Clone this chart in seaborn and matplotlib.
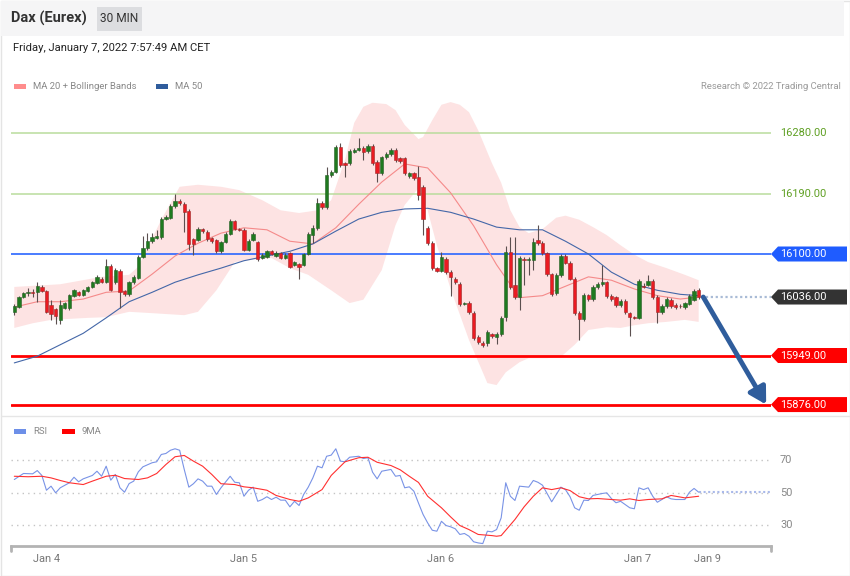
import matplotlib
matplotlib.use("Agg")
import matplotlib.pyplot as plt
import matplotlib.patches as mpatches
import matplotlib.transforms as mtransforms
from matplotlib.lines import Line2D
import numpy as np
import pandas as pd
import seaborn as sns

# ---------------- data ----------------
opens = [16014, 16021, 16036, 16042, 16043, 16043, 16051, 16045, 16024, 16018,
         16002, 16020, 16020, 16038, 16043, 16039, 16045, 16051, 16057, 16063,
         16058, 16082, 16058, 16075, 16045, 16040, 16058, 16064, 16096, 16109,
         16119, 16124, 16125, 16152, 16154, 16171, 16179, 16174, 16164, 16122,
         16121, 16137, 16133, 16124, 16121, 16104, 16118, 16130, 16149, 16137,
         16136, 16106, 16121, 16118, 16094, 16096, 16104, 16097, 16101, 16094,
         16101, 16084, 16085, 16084, 16100, 16128, 16139, 16176, 16170, 16218,
         16222, 16259, 16235, 16235, 16252, 16255, 16258, 16253, 16261, 16237,
         16220, 16244, 16249, 16255, 16243, 16243, 16216, 16220, 16215, 16200,
         16139, 16116, 16079, 16075, 16093, 16073, 16063, 16055, 16026, 16027,
         16012, 15977, 15968, 15968, 15981, 15977, 15981, 16006, 16103, 16054,
         16036, 16093, 16091, 16091, 16121, 16116, 16101, 16070, 16042, 16069,
         16097, 16087, 16063, 16012, 16003, 16039, 16033, 16051, 16055, 16058,
         16038, 16036, 16024, 16030, 16012, 16006, 16005, 16052, 16054, 16060,
         16036, 16014, 16023, 16032, 16024, 16023, 16021, 16026, 16032, 16046]
highs = [16026, 16038, 16044, 16049, 16048, 16058, 16054, 16047, 16032, 16020,
         16032, 16029, 16041, 16048, 16045, 16048, 16053, 16060, 16069, 16066,
         16093, 16085, 16079, 16078, 16047, 16060, 16069, 16099, 16127, 16131,
         16131, 16135, 16155, 16158, 16174, 16189, 16182, 16177, 16167, 16124,
         16140, 16139, 16135, 16126, 16123, 16120, 16132, 16152, 16151, 16139,
         16138, 16122, 16133, 16120, 16101, 16106, 16106, 16104, 16103, 16101,
         16103, 16090, 16087, 16102, 16133, 16143, 16183, 16179, 16229, 16225,
         16262, 16265, 16237, 16256, 16258, 16273, 16261, 16264, 16264, 16240,
         16246, 16251, 16258, 16258, 16245, 16245, 16222, 16222, 16231, 16203,
         16142, 16119, 16081, 16103, 16095, 16076, 16066, 16058, 16029, 16030,
         16015, 15980, 15970, 15987, 15983, 15984, 16008, 16112, 16125, 16125,
         16097, 16096, 16096, 16124, 16143, 16119, 16103, 16072, 16072, 16100,
         16100, 16090, 16066, 16015, 16042, 16041, 16054, 16058, 16084, 16060,
         16040, 16038, 16033, 16033, 16014, 16008, 16063, 16057, 16069, 16063,
         16039, 16026, 16036, 16035, 16027, 16026, 16029, 16041, 16048, 16049]
lows = [16009, 16020, 16035, 16038, 16036, 16029, 16043, 16012, 16002, 15996,
        15996, 16018, 16017, 16036, 16037, 16037, 16043, 16049, 16055, 16057,
        16057, 16045, 16055, 16020, 16038, 16038, 16055, 16063, 16094, 16106,
        16116, 16122, 16122, 16150, 16152, 16169, 16173, 16133, 16106, 16098,
        16119, 16131, 16120, 16117, 16102, 16102, 16116, 16128, 16135, 16134,
        16104, 16104, 16119, 16090, 16092, 16094, 16098, 16096, 16093, 16092,
        16079, 16082, 16063, 16082, 16098, 16116, 16136, 16167, 16167, 16215,
        16220, 16229, 16215, 16232, 16250, 16253, 16240, 16250, 16232, 16207,
        16218, 16241, 16246, 16237, 16236, 16218, 16213, 16210, 16180, 16128,
        16113, 16076, 16073, 16073, 16070, 16038, 16055, 16023, 16024, 16011,
        15972, 15966, 15962, 15963, 15975, 15966, 15978, 16000, 16048, 16033,
        16017, 16054, 16069, 16076, 16113, 16099, 16067, 16038, 16039, 16066,
        16085, 16061, 16009, 15972, 16000, 16030, 16030, 16048, 16052, 16035,
        16030, 16021, 16021, 16011, 15978, 16003, 16003, 16049, 16052, 16033,
        15997, 16011, 16020, 16020, 16018, 16020, 16018, 16024, 16030, 16033]
closes = [16023, 16036, 16042, 16043, 16042, 16052, 16045, 16014, 16011, 16008,
          16024, 16027, 16039, 16046, 16039, 16046, 16051, 16058, 16066, 16058,
          16082, 16046, 16076, 16043, 16040, 16058, 16066, 16096, 16109, 16119,
          16125, 16127, 16152, 16155, 16171, 16179, 16176, 16162, 16115, 16115,
          16137, 16134, 16122, 16119, 16104, 16118, 16130, 16149, 16137, 16136,
          16106, 16119, 16130, 16093, 16099, 16104, 16100, 16101, 16094, 16099,
          16081, 16088, 16081, 16100, 16130, 16139, 16176, 16170, 16218, 16222,
          16259, 16232, 16232, 16253, 16255, 16258, 16252, 16261, 16235, 16220,
          16244, 16249, 16255, 16240, 16238, 16220, 16220, 16213, 16188, 16152,
          16116, 16079, 16075, 16096, 16073, 16066, 16058, 16026, 16027, 16014,
          15975, 15969, 15965, 15984, 15978, 15981, 16005, 16103, 16051, 16036,
          16094, 16091, 16092, 16118, 16116, 16101, 16070, 16040, 16069, 16097,
          16087, 16063, 16012, 16003, 16039, 16033, 16051, 16055, 16058, 16038,
          16033, 16024, 16030, 16014, 16006, 16005, 16060, 16051, 16060, 16036,
          16014, 16023, 16033, 16023, 16021, 16022, 16027, 16038, 16045, 16036]

# MA 50 (read at candle positions)
ma50_idx = [0, 5, 10, 15, 20, 25, 30, 35, 40, 45, 50, 55, 60, 65, 70, 75, 80, 85,
            90, 95, 100, 105, 110, 115, 120, 125, 130, 135, 140, 145, 149]
ma50_val = [15938, 15948, 15965, 15982, 16005, 16029, 16043, 16058, 16069, 16079,
            16090, 16097, 16104, 16115, 16134, 16152, 16162, 16167, 16168, 16162,
            16152, 16140, 16136, 16136, 16119, 16100, 16073, 16055, 16046, 16040,
            16038]
# MA 20
ma20_idx = ma50_idx
ma20_val = [16021, 16029, 16029, 16033, 16043, 16045, 16070, 16097, 16116, 16131,
            16139, 16136, 16119, 16115, 16139, 16174, 16207, 16234, 16228, 16191,
            16142, 16084, 16035, 16038, 16052, 16066, 16061, 16048, 16038, 16033,
            16036]
# Bollinger upper band
bb_up_idx = [0, 10, 19, 25, 27, 32, 36, 40, 45, 49, 54, 58, 62, 66, 69, 72, 74,
             76, 78, 81, 83, 85, 88, 89, 91, 93, 95, 97, 99, 101, 104, 106, 108,
             110, 112, 115, 118, 120, 123, 126, 129, 132, 135, 138, 142, 146, 149]
bb_up_val = [16051, 16055, 16066, 16069, 16081, 16151, 16200, 16203, 16200, 16195,
             16180, 16165, 16161, 16165, 16180, 16240, 16295, 16319, 16325, 16323,
             16314, 16292, 16271, 16274, 16299, 16322, 16326, 16322, 16311, 16284,
             16235, 16206, 16165, 16140, 16131, 16137, 16154, 16157, 16151, 16140,
             16128, 16113, 16099, 16088, 16079, 16069, 16061]
# Bollinger lower band
bb_lo_idx = [0, 4, 8, 16, 20, 25, 30, 37, 40, 44, 48, 51, 56, 60, 64, 69, 73, 76,
             80, 83, 85, 88, 90, 92, 95, 99, 103, 105, 107, 110, 112, 116, 119,
             122, 125, 129, 132, 135, 138, 142, 146, 149]
bb_lo_val = [15990, 15997, 16002, 16005, 16006, 16014, 16012, 16009, 16014, 16046,
             16088, 16091, 16094, 16079, 16069, 16046, 16027, 16032, 16076, 16143,
             16173, 16198, 16165, 16113, 16048, 15972, 15908, 15905, 15924, 15939,
             15945, 15945, 15947, 15965, 15987, 15991, 15990, 15994, 15997, 15999,
             16002, 15999]

# RSI (14) and its 9-period MA
rsi_idx = [0, 2, 4, 5, 6, 7, 8, 9, 10, 12, 13, 14, 15, 17, 18, 19, 20, 21, 22, 23,
           24, 25, 26, 27, 28, 30, 31, 32, 33, 34, 35, 36, 37, 38, 39, 40, 41, 42,
           43, 44, 45, 47, 48, 49, 50, 51, 52, 53, 54, 55, 56, 57, 58, 59, 60, 61,
           62, 63, 64, 65, 66, 67, 68, 69, 70, 71, 72, 73, 75, 76, 77, 78, 79, 80,
           82, 83, 84, 85, 86, 87, 88, 89, 90, 91, 92, 93, 94, 95, 96, 97, 98, 99,
           100, 101, 102, 103, 104, 105, 106, 107, 108, 109, 110, 112, 113, 114,
           115, 116, 117, 118, 119, 120, 121, 122, 123, 124, 125, 126, 128, 129,
           130, 131, 132, 133, 134, 135, 136, 137, 138, 139, 140, 141, 142, 143,
           144, 146, 147, 148, 149]
rsi_val = [58, 61.7, 61.5, 63.5, 60.5, 51.4, 53.9, 49.8, 52.9, 56, 59.4, 56.6, 58.4,
           60.5, 63.1, 60, 66.2, 57.6, 61.1, 52.9, 50.2, 55.5, 57, 62.7, 65.8, 68.3,
           68.9, 73.4, 74, 76, 76.9, 76, 64.2, 53.3, 55.4, 58.4, 57, 53.9, 53.9,
           48.8, 52.9, 60, 56.3, 56, 47.7, 51.4, 53.3, 44.6, 45.7, 47.4, 45.7, 47.1,
           45.3, 45.3, 41.2, 44.6, 42, 48.8, 53.3, 59, 66.2, 65.2, 72.3, 73, 76.9,
           69.3, 68.9, 71.7, 72.3, 70.9, 71.4, 62.5, 58.4, 63.1, 64.2, 60, 60.5,
           52.9, 53.5, 50.8, 43.5, 36.5, 31.3, 26.8, 26.2, 32.3, 29.7, 28.9, 27.7,
           24.2, 24.8, 23.1, 19.7, 19.0, 18.6, 26.2, 25.8, 27.2, 34.4, 56, 47.7,
           45.1, 53.9, 53.3, 57.4, 56.3, 54.5, 49.4, 44.3, 48.8, 53.3, 51.8, 47.4,
           40.6, 39.1, 45.3, 45.1, 48.2, 49.4, 49.8, 46.3, 43.7, 44.6, 42.6, 40.6,
           40, 52.9, 51.8, 52.9, 47.7, 44, 45.7, 47.4, 46.1, 45.7, 45.7, 50.2, 52.5,
           50.2]
rsi_ma_idx = [0, 3, 6, 8, 10, 12, 15, 17, 20, 22, 24, 27, 29, 31, 33, 35, 37, 39,
              41, 43, 45, 48, 50, 52, 55, 57, 60, 62, 64, 67, 69, 72, 75, 77, 79,
              82, 84, 86, 88, 90, 93, 95, 97, 99, 101, 104, 105, 106, 109, 111, 113,
              115, 117, 119, 121, 123, 125, 127, 130, 132, 134, 136, 138, 141, 143,
              146, 149]
rsi_ma_val = [60, 59.7, 60, 59, 57.4, 56, 54.9, 57, 60, 60.6, 58.6, 58, 59, 61.7,
              67.2, 72, 72.8, 69.3, 66.2, 61.1, 55.4, 54.9, 53.5, 52.9, 51.4, 48.2,
              45.7, 44.6, 46.7, 51.8, 60.5, 68.9, 71.4, 71.7, 68.6, 66.6, 64, 60,
              56.2, 47.7, 40.6, 35, 29.7, 27.2, 24.2, 23.5, 23.1, 23.5, 33.4, 41.2,
              47.7, 52.9, 51.8, 52.9, 51.2, 47.4, 46.1, 46.3, 45.7, 45.3, 46.1, 45.1,
              45.7, 46.1, 48.2, 46.7, 47.7]

support_resist = [16280.00, 16190.00, 16100.00, 15949.00, 15876.00]
last_price = 16036.00
rsi_levels = [70, 50, 30]
day_labels = ["Jan 4", "Jan 5", "Jan 6", "Jan 7", "Jan 9"]

title = "Dax (Eurex)"
interval = "30 MIN"
stamp = "Friday, January 7, 2022 7:57:49 AM CET"

# ---------------- styling / layout ----------------
sns.set_theme(style="white")
plt.rcParams["font.family"] = ["Roboto", "DejaVu Sans"]

W, H = 850, 576
fig = plt.figure(figsize=(W / 100, H / 100), dpi=100)
fig.patch.set_facecolor("white")


def fx(px):
    return px / W


def fy(py):
    return 1 - py / H


# frame, header, separators
fig.patches.append(mpatches.Rectangle((fx(0.5), fy(575.5)), fx(849), 575 / H, transform=fig.transFigure,
                                      facecolor="none", edgecolor="#e4e4e4", lw=1, zorder=0))
fig.patches.append(mpatches.Rectangle((fx(1), fy(36)), fx(843), 35 / H, transform=fig.transFigure,
                                      facecolor="#f5f5f6", edgecolor="none", zorder=0))
fig.patches.append(mpatches.Rectangle((fx(97), fy(31)), fx(45), 24 / H, transform=fig.transFigure,
                                      facecolor="#dcdde0", edgecolor="none", zorder=0))
fig.lines.append(Line2D([fx(1), fx(849)], [fy(416), fy(416)], transform=fig.transFigure,
                        color="#e6e6e6", lw=1))
fig.text(fx(11), fy(18), title, fontsize=10.5, fontweight="bold", color="#333333", va="center", ha="left")
fig.text(fx(119.5), fy(18.5), interval, fontsize=8.6, color="#333333", va="center", ha="center")
fig.text(fx(13), fy(48), stamp, fontsize=8.1, color="#222222", va="center", ha="left")

# legends
fig.patches.append(mpatches.Rectangle((fx(14), fy(88.5)), fx(12), 4.5 / H, transform=fig.transFigure,
                                      facecolor="#ff8c8c", edgecolor="none"))
fig.text(fx(33), fy(86.5), "MA 20 + Bollinger Bands", fontsize=6.8, color="#888888", va="center")
fig.patches.append(mpatches.Rectangle((fx(156), fy(88.5)), fx(12), 4.5 / H, transform=fig.transFigure,
                                      facecolor="#2f5c9c", edgecolor="none"))
fig.text(fx(175), fy(86.5), "MA 50", fontsize=6.8, color="#888888", va="center")
fig.text(fx(841), fy(86.5), "Research \u00a9 2022 Trading Central", fontsize=6.8, color="#999999",
         va="center", ha="right")
fig.patches.append(mpatches.Rectangle((fx(14), fy(433.5)), fx(12), 4.5 / H, transform=fig.transFigure,
                                      facecolor="#6d8fe8", edgecolor="none"))
fig.text(fx(33), fy(431.5), "RSI", fontsize=6.8, color="#888888", va="center")
fig.patches.append(mpatches.Rectangle((fx(62), fy(433.5)), fx(13), 4.5 / H, transform=fig.transFigure,
                                      facecolor="#ff0000", edgecolor="none"))
fig.text(fx(82), fy(431.5), "9MA", fontsize=6.8, color="#888888", va="center")

# ---------------- main price panel ----------------
PX_PER_PT = 0.6722           # vertical scale of the reference
X0, DX = 14.3, 4.593          # candle spacing of the reference
xmin = (11 - X0) / DX
xmax = (771 - X0) / DX
ytop = 16100 + (254 - 95) / PX_PER_PT
ybot = 16100 - (415 - 254) / PX_PER_PT

ax = fig.add_axes([fx(11), fy(415), fx(760), 320 / H])
ax.set_facecolor("none")

df = pd.DataFrame({"open": opens, "high": highs, "low": lows, "close": closes})
df["idx"] = np.arange(len(df))
up = df["close"] >= df["open"]

# Bollinger band fill
ax.fill(np.r_[bb_up_idx, bb_lo_idx[::-1]], np.r_[bb_up_val, bb_lo_val[::-1]],
        color="#fde3e3", lw=0, zorder=1)

# level lines
lvl_colors = ["#b9dc9c", "#b9dc9c", "#2a66ff", "#ff0000", "#ff0000"]
lvl_widths = [1.1, 1.1, 1.2, 2.0, 2.0]
for lv, c, w in zip(support_resist, lvl_colors, lvl_widths):
    ax.axhline(lv, color=c, lw=w, zorder=2)

sns.lineplot(x=ma20_idx, y=ma20_val, ax=ax, color="#f58a8a", lw=0.8, zorder=3)
sns.lineplot(x=ma50_idx, y=ma50_val, ax=ax, color="#4467a8", lw=0.8, zorder=3)

# candles
ax.vlines(df["idx"], df["low"], df["high"], color="#5b4f4f", lw=0.8, zorder=4)
body_bottom = np.minimum(df["open"], df["close"])
body_h = np.maximum(np.abs(df["close"] - df["open"]), 0.9)
ax.bar(df["idx"], body_h, bottom=body_bottom, width=0.72,
       color=np.where(up, "#1f7a1f", "#ea1b22"),
       edgecolor=np.where(up, "#275e27", "#9c2a2a"), linewidth=0.4, zorder=5)

# last price dotted extension
ax.plot([len(df) - 0.5, xmax], [last_price, last_price], ls=(0, (1, 1.2)), color="#a9bbd6",
        lw=1.6, zorder=2)

# forecast arrow
ax.annotate("", xy=(163.7, support_resist[-1]), xytext=(len(df), last_price),
            arrowprops=dict(arrowstyle="-|>,head_length=0.7,head_width=0.4", color="#2f5d9c",
                            lw=3.5, shrinkA=0, shrinkB=0, mutation_scale=14),
            annotation_clip=False, zorder=6)

ax.set_xlim(xmin, xmax)
ax.set_ylim(ybot, ytop)
ax.set_xticks([])
ax.set_yticks([])
for s in ax.spines.values():
    s.set_visible(False)

trans = mtransforms.blended_transform_factory(fig.transFigure, ax.transData)
hh = 7.5 / PX_PER_PT


def tag(level, color):
    verts = [(fx(771), level), (fx(778), level + hh), (fx(847), level + hh),
             (fx(847), level - hh), (fx(778), level - hh)]
    ax.add_patch(mpatches.Polygon(verts, closed=True, transform=trans, facecolor=color,
                                  edgecolor="none", clip_on=False, zorder=7))
    ax.text(fx(780), level, f"{level:.2f}", transform=trans, color="white", fontsize=7.9,
            va="center", ha="left", clip_on=False, zorder=8)


for lv in support_resist[:2]:
    ax.text(fx(780), lv, f"{lv:.2f}", transform=trans, color="#5e9f22", fontsize=7.9,
            va="center", ha="left", clip_on=False)
tag(support_resist[2], "#1f5cff")
tag(last_price, "#333333")
tag(support_resist[3], "#ff0000")
tag(support_resist[4], "#ff0000")
ax.set_xlim(xmin, xmax)
ax.set_ylim(ybot, ytop)

# ---------------- RSI panel ----------------
ax2 = fig.add_axes([fx(11), fy(546), fx(760), 106 / H])
ax2.set_facecolor("none")
for lv in rsi_levels:
    ax2.axhline(lv, color="#c4c4c4", lw=1.0, ls=(0, (1, 3)), zorder=1)
sns.lineplot(x=rsi_ma_idx, y=rsi_ma_val, ax=ax2, color="#ff3030", lw=0.8, zorder=3)
sns.lineplot(x=rsi_idx, y=rsi_val, ax=ax2, color="#7993e6", lw=0.8, zorder=2)
ax2.plot([rsi_idx[-1], xmax], [rsi_val[-1], rsi_val[-1]], ls=(0, (1, 1.2)), color="#a9b9ea",
         lw=1.5, zorder=2)
ax2.set_xlim(xmin, xmax)
ax2.set_ylim(17.1, 82.3)
ax2.set_yticks([])
for k, s in ax2.spines.items():
    s.set_visible(k == "bottom")
ax2.spines["bottom"].set_color("#b3b3b3")
ax2.spines["bottom"].set_linewidth(2)
ax2.set_xticks([(47 - X0) / DX, (244 - X0) / DX, (441 - X0) / DX, (638 - X0) / DX, (707 - X0) / DX])
ax2.set_xticklabels(day_labels)
ax2.tick_params(axis="x", length=0, pad=6, labelsize=7.9, labelcolor="#777777")
ax2.set_xlabel("")
ax2.set_ylabel("")
ax.set_xlabel("")
ax.set_ylabel("")
for xe in (0, 1):
    ax2.plot([xe, xe], [0, -0.05], transform=ax2.transAxes, color="#b3b3b3", lw=2, clip_on=False)
trans2 = mtransforms.blended_transform_factory(fig.transFigure, ax2.transData)
for lv in rsi_levels:
    ax2.text(fx(780), lv, str(lv), transform=trans2, color="#888888", fontsize=7.9,
             va="center", ha="left", clip_on=False)

fig.savefig("out.png", dpi=100)
